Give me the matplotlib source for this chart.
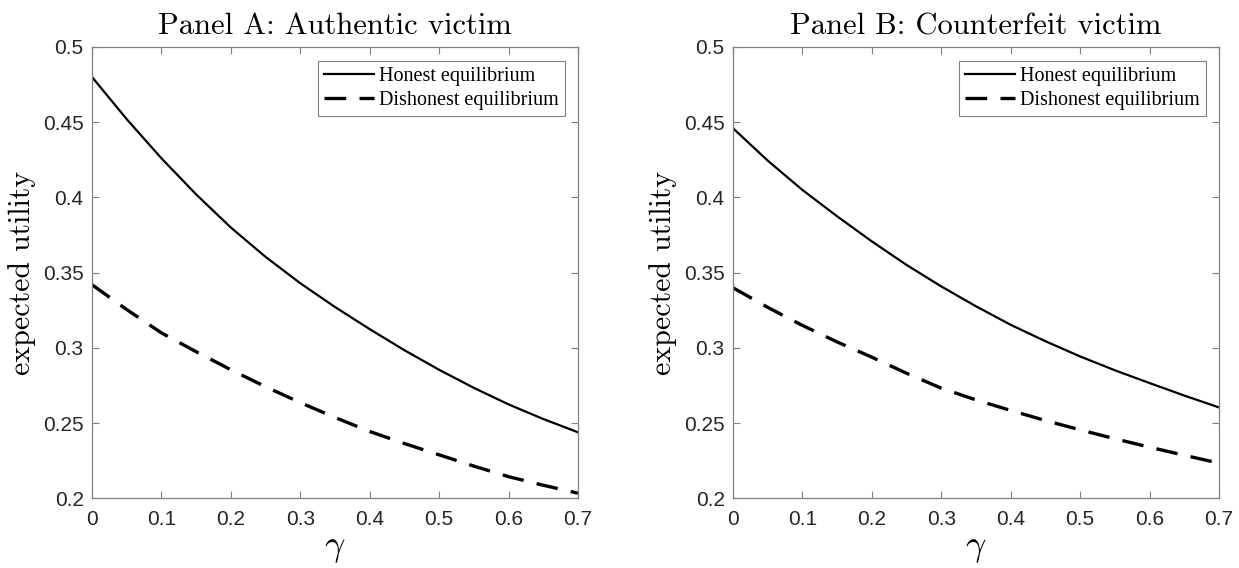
import numpy as np
import matplotlib
matplotlib.use('Agg')
import matplotlib.pyplot as plt

plt.rcParams['mathtext.fontset'] = 'cm'

# ---------------------------------------------------------------------------
# Data (expected utility vs gamma, 0.05 steps)
# ---------------------------------------------------------------------------
gamma = [0.0, 0.05, 0.1, 0.15, 0.2, 0.25, 0.3, 0.35,
         0.4, 0.45, 0.5, 0.55, 0.6, 0.65, 0.7]

a_honest    = [0.480, 0.452, 0.426, 0.402, 0.380, 0.3605, 0.343, 0.3272,
               0.3125, 0.2985, 0.2855, 0.2735, 0.2625, 0.2528, 0.2440]
a_dishonest = [0.342, 0.3255, 0.310, 0.2975, 0.2855, 0.2742, 0.2637, 0.2538,
               0.2445, 0.2365, 0.229, 0.2215, 0.2145, 0.2088, 0.2035]

b_honest    = [0.446, 0.4245, 0.405, 0.3875, 0.3708, 0.3552, 0.3409, 0.3277,
               0.3154, 0.3045, 0.2944, 0.2852, 0.2767, 0.2684, 0.2605]
b_dishonest = [0.340, 0.327, 0.315, 0.304, 0.2939, 0.2832, 0.2733, 0.2655,
               0.2585, 0.2518, 0.2456, 0.2397, 0.2341, 0.2287, 0.2235]

titles = ['Panel A: Authentic victim', 'Panel B: Counterfeit victim']
x_ticks = [0, 0.1, 0.2, 0.3, 0.4, 0.5, 0.6, 0.7]
x_ticklabels = ['0', '0.1', '0.2', '0.3', '0.4', '0.5', '0.6', '0.7']
y_ticks = [0.2, 0.25, 0.3, 0.35, 0.4, 0.45, 0.5]
y_ticklabels = ['0.2', '0.25', '0.3', '0.35', '0.4', '0.45', '0.5']

SPINE = '#808080'
TICK_FONT = dict(family='Liberation Sans', size=15, color='#262626')

fig = plt.figure(figsize=(12.39, 5.68), dpi=100)
positions = [[0.0743, 0.1224, 0.3922, 0.7949],
             [0.5916, 0.1224, 0.3922, 0.7949]]
panels = [(a_honest, a_dishonest), (b_honest, b_dishonest)]

for pos, (honest, dishonest), title in zip(positions, panels, titles):
    ax = fig.add_axes(pos)
    ax.plot(gamma, honest, color='black', lw=1.6, label='Honest equilibrium')
    ax.plot(gamma, dishonest, color='black', lw=2.4, dashes=(6.5, 4.0),
            label='Dishonest equilibrium')
    ax.set_xlim(0, 0.7)
    ax.set_ylim(0.2, 0.5)
    ax.set_xticks(x_ticks)
    ax.set_xticklabels(x_ticklabels, fontdict=TICK_FONT)
    ax.set_yticks(y_ticks)
    ax.set_yticklabels(y_ticklabels, fontdict=TICK_FONT)
    ax.tick_params(direction='in', length=5, width=0.8, color=SPINE,
                   top=True, right=True)
    ax.tick_params(axis='x', pad=8)
    ax.tick_params(axis='y', pad=6)
    for s in ax.spines.values():
        s.set_color(SPINE)
        s.set_linewidth(0.9)
    ax.set_title(title, fontfamily='cmr10', fontsize=22, pad=9)
    ax.set_ylabel('expected utility', fontfamily='cmr10', fontsize=21.5, labelpad=5)
    ax.set_xlabel(r'$\gamma$', fontsize=26, labelpad=2)
    leg = ax.legend(loc='upper right', bbox_to_anchor=(0.9733, 0.969),
                    borderaxespad=0, prop=dict(family='Liberation Serif', size=14.5),
                    handlelength=2.5, handletextpad=0.25, borderpad=0.3,
                    labelspacing=0.25, fancybox=False, framealpha=1)
    leg.get_frame().set_edgecolor(SPINE)
    leg.get_frame().set_linewidth(0.8)

plt.savefig('out.png', dpi=100)
